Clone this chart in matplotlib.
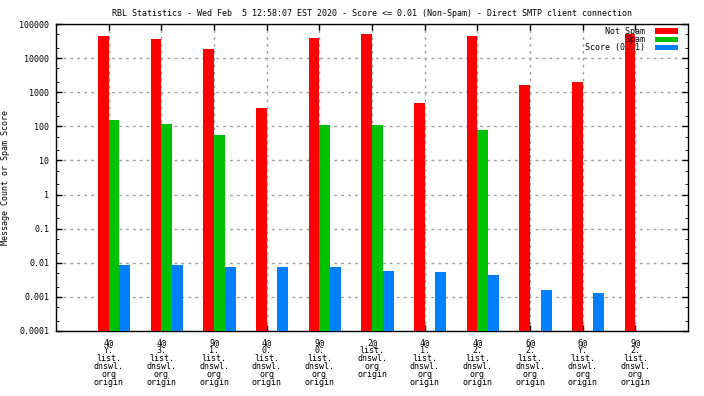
import matplotlib.pyplot as plt
import numpy as np
from matplotlib.ticker import LogLocator, FixedLocator, NullFormatter

# one cluster per RBL list
categories = ['4@\nY.\nlist.\ndnswl.\norg\norigin',
              '4@\n3.\nlist.\ndnswl.\norg\norigin',
              '9@\n1.\nlist.\ndnswl.\norg\norigin',
              '4@\n0.\nlist.\ndnswl.\norg\norigin',
              '9@\n0.\nlist.\ndnswl.\norg\norigin',
              '2@\nlist.\ndnswl.\norg\norigin',
              '4@\n1.\nlist.\ndnswl.\norg\norigin',
              '4@\n2.\nlist.\ndnswl.\norg\norigin',
              '6@\n2.\nlist.\ndnswl.\norg\norigin',
              '6@\nY.\nlist.\ndnswl.\norg\norigin',
              '9@\n2.\nlist.\ndnswl.\norg\norigin']
not_spam = [44700, 36300, 18500, 345, 39000, 51000, 483, 44700, 1630, 2000, 51000]
spam = [153, 117, 56, 0, 110, 110, 0, 78, 0, 0, 0]
score = [0.0085, 0.0085, 0.0075, 0.0075, 0.0075, 0.0057, 0.0053, 0.0044, 0.0016, 0.0013, 0]

plt.rcParams['font.family'] = ['DejaVu Sans Mono']
plt.rcParams['font.size'] = 6

fig = plt.figure(figsize=(7.04, 3.96), dpi=100)
ax = fig.add_axes([56 / 704, 65 / 396, 632 / 704, 307 / 396])

x = np.arange(len(categories))
w = 0.205
ax.bar(x - w / 2, not_spam, w, color='#ff0000', label='Not Spam', zorder=3)
ax.bar(x + w / 2, spam, w, color='#00c000', label='Spam', zorder=3)
ax.bar(x + 1.5 * w, score, w, color='#0080ff', label='Score (0..1)', zorder=3)

ax.set_yscale('log')
ax.set_ylim(1e-4, 1e5)
ax.set_xlim(-1, len(categories))
ax.yaxis.set_major_locator(FixedLocator([10.0 ** k for k in range(-4, 6)]))
ax.set_yticklabels(['0.0001', '0.001', '0.01', '0.1', '1', '10', '100', '1000', '10000', '100000'])
ax.yaxis.set_minor_locator(LogLocator(base=10, subs=(2.0, 5.0)))
ax.yaxis.set_minor_formatter(NullFormatter())
ax.set_xticks(x)
ax.set_xticklabels(categories, linespacing=0.85, va='top')

ax.tick_params(axis='both', direction='in', top=True, right=True, length=4, width=1)
ax.tick_params(axis='y', which='minor', direction='in', right=True, length=2)
ax.tick_params(axis='x', pad=5)
ax.tick_params(axis='y', pad=5)
ax.grid(True, color='#a0a0a0', linestyle=(0, (2, 3)), linewidth=1, zorder=0)
for s in ax.spines.values():
    s.set_linewidth(1)

fig.text(6 / 704, 0.5 + (396 - 355) / 2 / 396 - 0.0, 'Message Count or Spam Score',
         rotation=90, ha='center', va='center')
ax.set_title('RBL Statistics - Wed Feb  5 12:58:07 EST 2020 - Score <= 0.01 (Non-Spam) - Direct SMTP client connection',
             fontsize=6, pad=6)

ax.legend(loc='upper right', bbox_to_anchor=(1 - 10 / 632, 1 - 3 / 307), frameon=False,
          markerfirst=False, handlelength=2.75, handleheight=0.6, labelspacing=-0.1,
          borderaxespad=0, borderpad=0, handletextpad=1.2)

fig.savefig('out.png', dpi=100)
